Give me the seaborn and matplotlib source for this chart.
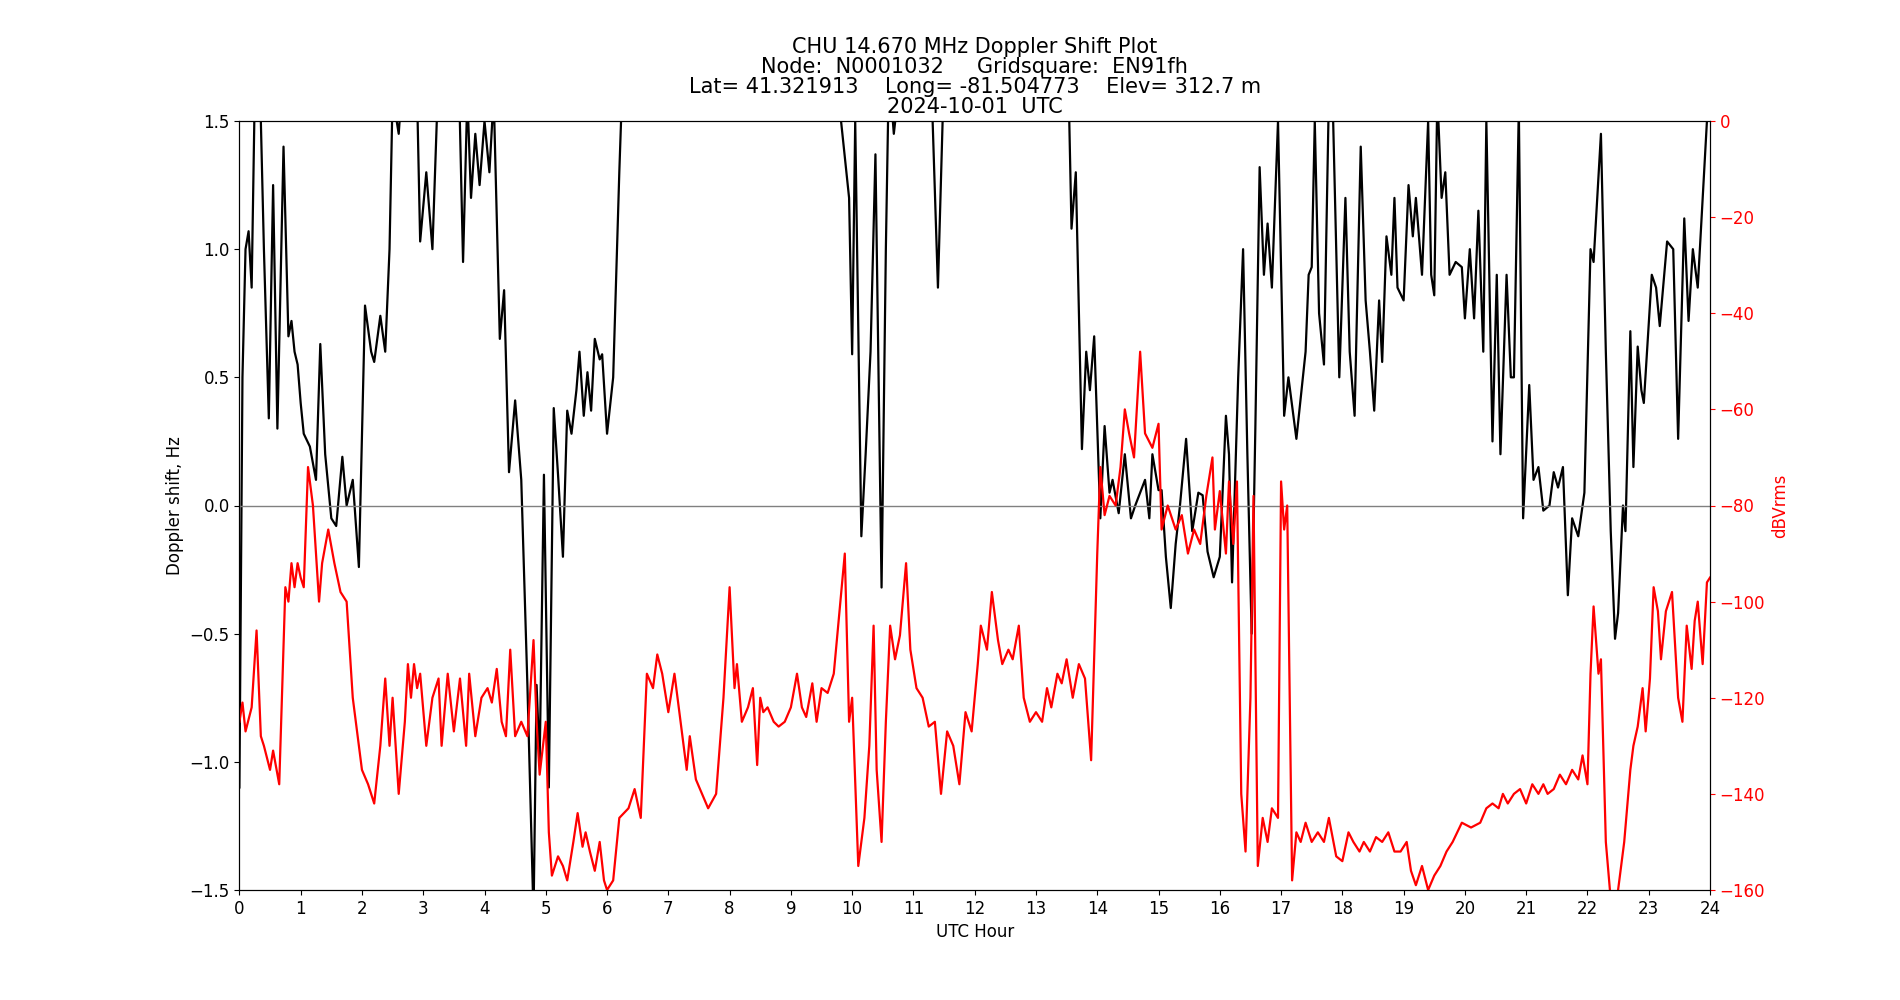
import numpy as np
import matplotlib
matplotlib.use("Agg")
import matplotlib.pyplot as plt
import seaborn as sns

# Doppler shift (Hz); values beyond +/-1.5 are off-scale
doppler_hours = [0, 0.05, 0.1, 0.15, 0.2, 0.25, 0.3, 0.4, 0.48, 0.55, 0.62, 0.72, 0.8, 0.85, 0.9, 0.95, 1.0, 1.05, 1.15, 1.25, 1.32, 1.4, 1.5, 1.58, 1.68, 1.75, 1.85, 1.95, 2.05, 2.15, 2.2, 2.3, 2.38, 2.45, 2.5, 2.6, 2.7, 2.9, 2.95, 3.05, 3.15, 3.25, 3.4, 3.55, 3.65, 3.72, 3.78, 3.85, 3.92, 4.0, 4.08, 4.15, 4.25, 4.32, 4.4, 4.5, 4.6, 4.7, 4.8, 4.85, 4.9, 4.97, 5.05, 5.13, 5.2, 5.28, 5.35, 5.42, 5.5, 5.55, 5.62, 5.68, 5.74, 5.8, 5.88, 5.92, 6.0, 6.1, 6.2, 6.3, 9.6, 9.95, 10.0, 10.05, 10.15, 10.22, 10.3, 10.38, 10.48, 10.55, 10.6, 10.68, 10.75, 10.9, 11.3, 11.4, 11.5, 11.6, 13.5, 13.58, 13.65, 13.75, 13.82, 13.88, 13.95, 14.05, 14.12, 14.2, 14.25, 14.35, 14.45, 14.55, 14.62, 14.7, 14.78, 14.85, 14.9, 15.0, 15.05, 15.12, 15.2, 15.28, 15.35, 15.45, 15.55, 15.65, 15.72, 15.8, 15.9, 16.0, 16.1, 16.15, 16.2, 16.3, 16.38, 16.45, 16.52, 16.58, 16.65, 16.72, 16.78, 16.85, 16.95, 17.05, 17.12, 17.25, 17.4, 17.45, 17.5, 17.55, 17.62, 17.7, 17.78, 17.85, 17.95, 18.05, 18.12, 18.2, 18.3, 18.38, 18.45, 18.52, 18.6, 18.65, 18.72, 18.8, 18.85, 18.9, 19.0, 19.08, 19.15, 19.2, 19.3, 19.4, 19.45, 19.5, 19.55, 19.62, 19.68, 19.75, 19.85, 19.95, 20.0, 20.08, 20.15, 20.22, 20.3, 20.35, 20.45, 20.52, 20.58, 20.68, 20.75, 20.8, 20.88, 20.95, 21.05, 21.12, 21.2, 21.28, 21.38, 21.45, 21.52, 21.6, 21.68, 21.75, 21.85, 21.95, 22.05, 22.1, 22.22, 22.3, 22.38, 22.45, 22.5, 22.58, 22.62, 22.7, 22.75, 22.82, 22.88, 22.92, 23.05, 23.12, 23.18, 23.3, 23.4, 23.48, 23.58, 23.65, 23.72, 23.8, 23.88, 23.95, 24.0]
doppler_shift = [-1.1, 0.5, 1.0, 1.07, 0.85, 1.6, 2.0, 1.0, 0.34, 1.25, 0.3, 1.4, 0.66, 0.72, 0.6, 0.55, 0.4, 0.28, 0.23, 0.1, 0.63, 0.2, -0.05, -0.08, 0.19, 0.0, 0.1, -0.24, 0.78, 0.6, 0.56, 0.74, 0.6, 1.0, 1.6, 1.45, 1.8, 1.6, 1.03, 1.3, 1.0, 1.7, 1.6, 2.0, 0.95, 1.6, 1.2, 1.45, 1.25, 1.5, 1.3, 1.6, 0.65, 0.84, 0.13, 0.41, 0.1, -0.7, -1.6, -0.7, -1.0, 0.12, -1.1, 0.38, 0.12, -0.2, 0.37, 0.28, 0.45, 0.6, 0.35, 0.52, 0.37, 0.65, 0.57, 0.59, 0.28, 0.5, 1.3, 2.0, 2.0, 1.2, 0.59, 1.5, -0.12, 0.2, 0.6, 1.37, -0.32, 1.0, 1.7, 1.45, 1.6, 2.0, 1.6, 0.85, 1.7, 2.0, 2.0, 1.08, 1.3, 0.22, 0.6, 0.45, 0.66, -0.05, 0.31, 0.05, 0.1, -0.03, 0.2, -0.05, 0.0, 0.05, 0.1, -0.05, 0.2, 0.06, 0.06, -0.2, -0.4, -0.15, 0.0, 0.26, -0.1, 0.05, 0.04, -0.18, -0.28, -0.2, 0.35, 0.2, -0.3, 0.5, 1.0, 0.2, -0.5, 0.3, 1.32, 0.9, 1.1, 0.85, 1.5, 0.35, 0.5, 0.26, 0.6, 0.9, 0.93, 1.5, 0.75, 0.55, 1.6, 1.5, 0.5, 1.2, 0.6, 0.35, 1.4, 0.8, 0.6, 0.37, 0.8, 0.56, 1.05, 0.9, 1.2, 0.85, 0.8, 1.25, 1.05, 1.2, 0.9, 1.5, 0.9, 0.82, 1.6, 1.2, 1.3, 0.9, 0.95, 0.93, 0.73, 1.0, 0.73, 1.15, 0.6, 1.5, 0.25, 0.9, 0.2, 0.9, 0.5, 0.5, 1.55, -0.05, 0.47, 0.1, 0.15, -0.02, 0.0, 0.13, 0.07, 0.15, -0.35, -0.05, -0.12, 0.05, 1.0, 0.95, 1.45, 0.6, -0.1, -0.52, -0.42, 0.0, -0.1, 0.68, 0.15, 0.62, 0.45, 0.4, 0.9, 0.85, 0.7, 1.03, 1.0, 0.26, 1.12, 0.72, 1.0, 0.85, 1.2, 1.5, 1.6]

# received signal level (dBVrms)
level_hours = [0, 0.05, 0.1, 0.2, 0.28, 0.35, 0.4, 0.5, 0.55, 0.65, 0.75, 0.8, 0.85, 0.9, 0.95, 1.0, 1.05, 1.12, 1.2, 1.3, 1.35, 1.45, 1.55, 1.65, 1.75, 1.85, 2.0, 2.1, 2.2, 2.3, 2.38, 2.45, 2.5, 2.6, 2.7, 2.75, 2.8, 2.85, 2.9, 2.95, 3.05, 3.15, 3.25, 3.3, 3.4, 3.5, 3.6, 3.7, 3.75, 3.85, 3.95, 4.05, 4.12, 4.2, 4.28, 4.35, 4.42, 4.5, 4.6, 4.7, 4.8, 4.85, 4.9, 5.0, 5.05, 5.1, 5.2, 5.28, 5.35, 5.45, 5.52, 5.6, 5.65, 5.72, 5.8, 5.88, 5.95, 6.0, 6.1, 6.2, 6.35, 6.45, 6.55, 6.65, 6.75, 6.82, 6.9, 7.0, 7.1, 7.2, 7.3, 7.35, 7.45, 7.55, 7.65, 7.78, 7.9, 8.0, 8.08, 8.12, 8.2, 8.3, 8.38, 8.45, 8.5, 8.55, 8.62, 8.72, 8.8, 8.9, 9.0, 9.1, 9.18, 9.25, 9.35, 9.42, 9.5, 9.6, 9.7, 9.78, 9.88, 9.95, 10.0, 10.1, 10.2, 10.28, 10.35, 10.4, 10.48, 10.55, 10.62, 10.7, 10.78, 10.88, 10.95, 11.05, 11.15, 11.25, 11.35, 11.45, 11.55, 11.65, 11.75, 11.85, 11.95, 12.05, 12.1, 12.2, 12.28, 12.38, 12.45, 12.55, 12.62, 12.72, 12.8, 12.9, 13.0, 13.1, 13.18, 13.25, 13.35, 13.42, 13.5, 13.6, 13.7, 13.8, 13.9, 14.0, 14.05, 14.12, 14.2, 14.3, 14.38, 14.45, 14.52, 14.6, 14.7, 14.78, 14.9, 15.0, 15.05, 15.15, 15.28, 15.38, 15.48, 15.58, 15.68, 15.78, 15.88, 15.92, 16.0, 16.1, 16.15, 16.22, 16.28, 16.35, 16.42, 16.5, 16.55, 16.62, 16.7, 16.78, 16.85, 16.95, 17.0, 17.05, 17.1, 17.18, 17.25, 17.32, 17.4, 17.5, 17.6, 17.7, 17.78, 17.9, 18.0, 18.1, 18.18, 18.28, 18.35, 18.45, 18.55, 18.65, 18.75, 18.85, 18.95, 19.05, 19.12, 19.2, 19.3, 19.4, 19.5, 19.6, 19.7, 19.8, 19.95, 20.1, 20.25, 20.35, 20.45, 20.55, 20.62, 20.7, 20.8, 20.9, 21.0, 21.1, 21.2, 21.28, 21.35, 21.45, 21.55, 21.65, 21.75, 21.85, 21.92, 22.0, 22.05, 22.1, 22.18, 22.22, 22.3, 22.4, 22.5, 22.6, 22.7, 22.75, 22.82, 22.9, 22.95, 23.02, 23.08, 23.15, 23.2, 23.28, 23.38, 23.48, 23.55, 23.62, 23.7, 23.75, 23.8, 23.88, 23.95, 24.0]
level_dbv = [-125, -121, -127, -122, -106, -128, -130, -135, -131, -138, -97, -100, -92, -97, -92, -95, -97, -72, -80, -100, -92, -85, -92, -98, -100, -120, -135, -138, -142, -130, -116, -130, -120, -140, -125, -113, -120, -113, -118, -115, -130, -120, -116, -130, -115, -127, -116, -130, -115, -128, -120, -118, -121, -114, -125, -128, -110, -128, -125, -128, -108, -125, -136, -125, -148, -157, -153, -155, -158, -150, -144, -151, -148, -152, -156, -150, -158, -160, -158, -145, -143, -139, -145, -115, -118, -111, -115, -123, -115, -125, -135, -128, -137, -140, -143, -140, -120, -97, -118, -113, -125, -122, -118, -134, -120, -123, -122, -125, -126, -125, -122, -115, -122, -124, -117, -125, -118, -119, -115, -104, -90, -125, -120, -155, -145, -130, -105, -135, -150, -125, -105, -112, -107, -92, -110, -118, -120, -126, -125, -140, -127, -130, -138, -123, -127, -113, -105, -110, -98, -108, -113, -110, -112, -105, -120, -125, -123, -125, -118, -122, -115, -117, -112, -120, -113, -116, -133, -90, -72, -82, -78, -80, -72, -60, -65, -70, -48, -65, -68, -63, -85, -80, -85, -82, -90, -85, -88, -78, -70, -85, -77, -90, -75, -88, -75, -140, -152, -120, -78, -155, -145, -150, -143, -145, -75, -85, -80, -158, -148, -150, -146, -150, -148, -150, -145, -153, -154, -148, -150, -152, -150, -152, -149, -150, -148, -152, -152, -150, -156, -159, -155, -160, -157, -155, -152, -150, -146, -147, -146, -143, -142, -143, -140, -142, -140, -139, -142, -138, -140, -138, -140, -139, -136, -138, -135, -137, -132, -138, -115, -101, -115, -112, -150, -165, -160, -150, -135, -130, -126, -118, -127, -116, -97, -102, -112, -102, -98, -120, -125, -105, -114, -104, -100, -113, -96, -95]

fig, ax = plt.subplots(figsize=(19, 10), dpi=100)
fig.subplots_adjust(left=0.126, right=0.9, top=0.879, bottom=0.11)

sns.lineplot(x=doppler_hours, y=doppler_shift, ax=ax, color="black", linewidth=1.6,
             sort=False, estimator=None)
ax.axhline(0, color="gray", linewidth=1)
ax.set_xlim(0, 24)
ax.set_ylim(-1.5, 1.5)
ax.set_xticks(range(0, 25))
ax.set_xlabel("UTC Hour", fontsize=12)
ax.set_ylabel("Doppler shift, Hz", fontsize=12)
ax.tick_params(labelsize=12)
ax.set_title("CHU 14.670 MHz Doppler Shift Plot\n"
             "Node:  N0001032     Gridsquare:  EN91fh\n"
             "Lat= 41.321913    Long= -81.504773    Elev= 312.7 m\n"
             "2024-10-01  UTC", fontsize=15, linespacing=1.0)

ax2 = ax.twinx()
sns.lineplot(x=level_hours, y=level_dbv, ax=ax2, color="red", linewidth=1.6,
             sort=False, estimator=None)
ax2.set_ylim(-160, 0)
ax2.set_ylabel("dBVrms", color="red", fontsize=12)
ax2.tick_params(axis="y", colors="red", labelsize=12)

fig.savefig("out.png")
